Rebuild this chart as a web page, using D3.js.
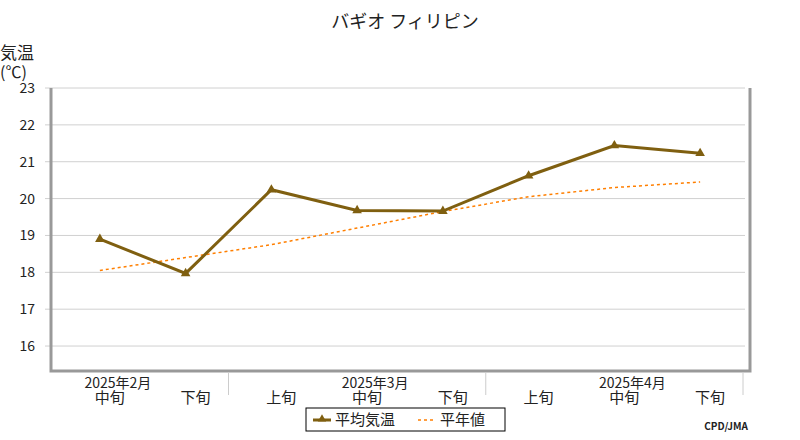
<!DOCTYPE html>
<html><head><meta charset="utf-8">
<script src="https://cdn.jsdelivr.net/npm/d3@7"></script>
<style>body{margin:0;background:#fff}text{font-family:"Noto Sans CJK JP",sans-serif}</style>
</head><body>
<script>
var decades = ["中旬", "下旬", "上旬", "中旬", "下旬", "上旬", "中旬", "下旬"];
var months = [{label: "2025年2月", at: 0}, {label: "2025年3月", at: 3}, {label: "2025年4月", at: 6}];
var monthStarts = [2, 5, 8];
var avgTemp = [18.9, 17.97, 20.24, 19.68, 19.66, 20.62, 21.44, 21.23];
var normTemp = [18.05, 18.4, 18.75, 19.2, 19.65, 20.05, 20.3, 20.45];
var yTicks = [16, 17, 18, 19, 20, 21, 22, 23];

var w = 800, h = 440;
var svg = d3.select("body").append("svg").attr("width", w).attr("height", h);

var x = d3.scaleBand().domain(d3.range(8)).range([57, 743]);
var y = d3.scaleLinear().domain([15.35, 23]).range([370, 88]);
var cx = function(i) { return x(i) + x.bandwidth() / 2; };
var edge = function(i) { return i < 8 ? x(i) : x.range()[1]; };

// title
svg.append("text").attr("x", 405).attr("y", 28).attr("text-anchor", "middle")
  .attr("font-size", 18).attr("fill", "#222").text("バギオ フィリピン");

// grid
svg.selectAll("line.grid").data(yTicks).enter().append("line")
  .attr("x1", 45).attr("x2", 745)
  .attr("y1", function(d) { return y(d); }).attr("y2", function(d) { return y(d); })
  .style("stroke", "#d0d0d0").style("stroke-width", 1);

// frame
svg.append("path").attr("d", "M51,88 V371 H750 V88")
  .style("fill", "none").style("stroke", "#999").style("stroke-width", 3);

// y labels
svg.selectAll("text.yl").data(yTicks).enter().append("text")
  .attr("x", 35).attr("y", function(d) { return y(d) + 5; })
  .attr("text-anchor", "end").attr("font-size", 14).attr("fill", "#222")
  .text(function(d) { return d; });
svg.append("text").attr("x", 0).attr("y", 59).attr("font-size", 17).attr("fill", "#222").text("気温");
svg.append("text").attr("x", 0).attr("y", 78).attr("font-size", 16).attr("fill", "#222").text("(℃)");

// month separators
monthStarts.forEach(function(i) {
  svg.append("line").attr("x1", edge(i)).attr("x2", edge(i))
    .attr("y1", 373).attr("y2", 395).style("stroke", "#ccc");
});

// x labels
svg.selectAll("text.xl").data(decades).enter().append("text")
  .attr("x", function(d, i) { return cx(i) + 10; }).attr("y", 403)
  .attr("text-anchor", "middle").attr("font-size", 15).attr("fill", "#222")
  .text(function(d) { return d; });
svg.selectAll("text.ml").data(months).enter().append("text")
  .attr("x", function(d) { return cx(d.at) + 18; }).attr("y", 388)
  .attr("text-anchor", "middle").attr("font-size", 14).attr("fill", "#222")
  .text(function(d) { return d.label; });

// lines
var line = d3.line().x(function(d, i) { return cx(i); }).y(function(d) { return y(d); });
svg.append("path").datum(normTemp).attr("d", line)
  .style("fill", "none").style("stroke", "#ff7f00").style("stroke-width", 1.5).style("stroke-dasharray", "3,3");
svg.append("path").datum(avgTemp).attr("d", line)
  .style("fill", "none").style("stroke", "#7f5f10").style("stroke-width", 3);
svg.selectAll("path.mk").data(avgTemp).enter().append("path")
  .attr("transform", function(d, i) { return "translate(" + cx(i) + "," + y(d) + ")"; })
  .attr("d", d3.symbol(d3.symbolTriangle, 40))
  .style("fill", "#7f5f10");

// legend
svg.append("rect").attr("x", 306).attr("y", 408).attr("width", 199).attr("height", 23)
  .style("fill", "#fff").style("stroke", "#000");
svg.append("line").attr("x1", 313).attr("x2", 331).attr("y1", 420).attr("y2", 420)
  .style("stroke", "#7f5f10").style("stroke-width", 3);
svg.append("path").attr("transform", "translate(322,419)").attr("d", d3.symbol(d3.symbolTriangle, 30)).style("fill", "#7f5f10");
svg.append("text").attr("x", 335).attr("y", 425).attr("font-size", 15).attr("fill", "#222").text("平均気温");
svg.append("line").attr("x1", 418).attr("x2", 436).attr("y1", 420).attr("y2", 420)
  .style("stroke", "#ff7f00").style("stroke-width", 1.5).style("stroke-dasharray", "3,3");
svg.append("text").attr("x", 440).attr("y", 425).attr("font-size", 15).attr("fill", "#222").text("平年値");

svg.append("text").attr("x", 748).attr("y", 430).attr("text-anchor", "end")
  .attr("font-size", 10).attr("font-weight", "bold").attr("font-family", "DejaVu Sans Mono").attr("fill", "#222").text("CPD/JMA");
</script>
</body></html>
